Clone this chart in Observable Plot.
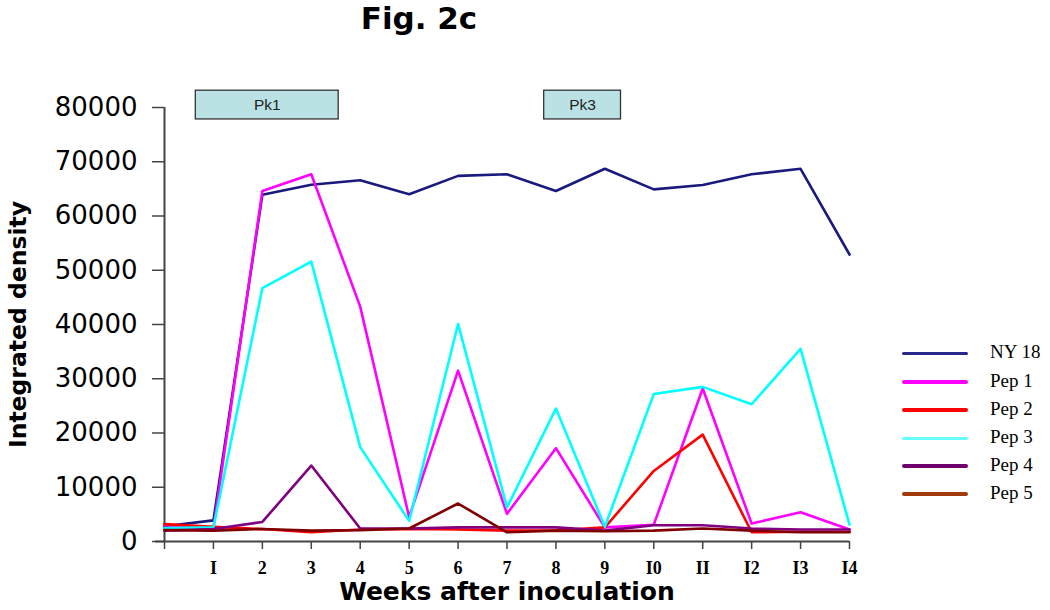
<!DOCTYPE html>
<html><head><meta charset="utf-8">
<script src="https://cdn.jsdelivr.net/npm/d3@7"></script>
<script src="https://cdn.jsdelivr.net/npm/@observablehq/plot@0.6"></script>
<style>
body{margin:0;background:#fff;}
#wrap{position:relative;width:1050px;height:610px;overflow:hidden;}
#chart{position:absolute;left:0;top:0;}
#title{position:absolute;left:0;top:0;width:838px;text-align:center;font:bold 31px "DejaVu Sans","Liberation Sans",Arial,sans-serif;line-height:36px;color:#000;}
.lg{position:absolute;left:902px;height:24px;line-height:24px;width:150px;}
.lg .sw{position:absolute;left:0;top:10px;width:66px;height:4px;border-radius:2px;}
.lg .tx{position:absolute;left:88px;top:0;font:19px "Liberation Serif","Times New Roman",serif;color:#000;white-space:nowrap;}
</style></head><body>
<div id="wrap"><div id="chart"></div><div id="title">Fig. 2c</div><div id="legend"></div></div>
<script>
const weeks = [0,1,2,3,4,5,6,7,8,9,10,11,12,13,14];
const weekLabels = ["","I","2","3","4","5","6","7","8","9","I0","II","I2","I3","I4"];
const yTicks = [0,10000,20000,30000,40000,50000,60000,70000,80000];
const series = ["NY 18","Pep 1","Pep 2","Pep 3","Pep 4","Pep 5"];
const ny18 = [2800,3900,63900,65750,66600,64000,67400,67700,64600,68700,64900,65700,67700,68700,52900];
const pep1 = [3000,2500,64600,67700,43300,4500,31500,5100,17200,2600,3100,28200,3300,5400,2200];
const pep2 = [3200,2700,2300,1700,2200,2300,2200,2000,2000,2600,13000,19700,1700,1800,1800];
const pep3 = [2500,2600,46700,51600,17400,3800,40100,6300,24500,2700,27200,28500,25300,35500,3100];
const pep4 = [2000,2300,3600,14000,2400,2400,2600,2600,2600,2000,3000,3000,2400,2200,2200];
const pep5 = [2100,2000,2300,2000,2100,2400,7000,1700,2000,1900,2000,2400,2000,1700,1700];
const boxLabels = ["Pk1","Pk3"];
const boxStart = [0.64,7.76];
const boxEnd = [3.56,9.33];
const boxLow = [77800,77800];
const boxHigh = [83100,83100];

const lineColors = ["#1a1a7e","#ff00ff","#ff0000","#00ffff","#800080","#800000"];
const legendColors = ["#28288c","#ff00ff","#ff0000","#66ffff","#700070","#a03a0a"];

const allValues = [ny18,pep1,pep2,pep3,pep4,pep5];
const rows = [];
series.forEach((s,si)=>weeks.forEach((w,wi)=>rows.push({series:s, week:w, value:allValues[si][wi]})));
const boxes = boxLabels.map((l,i)=>({label:l, x1:boxStart[i], x2:boxEnd[i], y1:boxLow[i], y2:boxHigh[i]}));

const font = '"Liberation Sans", Arial, sans-serif';
const wide = '"DejaVu Sans", "Liberation Sans", Arial, sans-serif';
const plot = Plot.plot({
  width:1050, height:610,
  marginTop:107, marginBottom:69, marginLeft:164, marginRight:201,
  style:{background:"#fff", color:"#000", overflow:"visible"},
  x:{domain:[0,14]},
  y:{domain:[0,80000]},
  color:{domain:series, range:lineColors},
  marks:[
    Plot.rect(boxes,{x1:"x1",x2:"x2",y1:"y1",y2:"y2",fill:"#bae2e4",stroke:"#333",strokeWidth:1.3,clip:false}),
    Plot.text(boxes,{x:d=>(d.x1+d.x2)/2,y:d=>(d.y1+d.y2)/2,text:"label",fontSize:15.5,fontFamily:font,fill:"#222"}),
    Plot.axisY({ticks:yTicks, tickFormat:d3.format("d"), tickSize:12, tickPadding:15, fontSize:26, fontFamily:wide, stroke:"#444", strokeWidth:1.5, label:null}),
    Plot.axisX({ticks:weeks, tickFormat:(d)=>weekLabels[weeks.indexOf(d)], tickSize:8, tickPadding:12, fontSize:18, fontWeight:"bold", fontFamily:'"Liberation Serif","Times New Roman",serif', stroke:"#444", strokeWidth:1.5, label:null}),
    Plot.ruleY([0],{x1:-0.18,x2:14,stroke:"#444",strokeWidth:2}),
    Plot.ruleX([0],{y1:0,y2:80000,stroke:"#444",strokeWidth:2}),
    Plot.line(rows,{x:"week",y:"value",z:"series",stroke:"series",strokeWidth:2.6}),
    Plot.text(["Weeks after inoculation"],{frameAnchor:"bottom",dy:50,text:d=>d,fontSize:25,fontWeight:"bold",fontFamily:wide,lineAnchor:"middle"}),
    Plot.text(["Integrated density"],{frameAnchor:"left",dx:-146,rotate:-90,textAnchor:"middle",text:d=>d,fontSize:23.5,fontWeight:"bold",fontFamily:wide,lineAnchor:"middle"})
  ]
});
document.getElementById("chart").appendChild(plot);

const legendY = [353,382,410,438,466,494];
const lg = document.getElementById("legend");
series.forEach((s,i)=>{
  const row = document.createElement("div");
  row.className="lg";
  row.style.top=(legendY[i]-12)+"px";
  const sw=document.createElement("div");
  sw.className="sw";
  sw.style.background=legendColors[i];
  if(i===0||i===3){sw.style.height="3px";sw.style.top="10.5px";}
  const tx=document.createElement("div");
  tx.className="tx";
  tx.textContent=s;
  row.appendChild(sw);row.appendChild(tx);
  lg.appendChild(row);
});
</script>
</body></html>
